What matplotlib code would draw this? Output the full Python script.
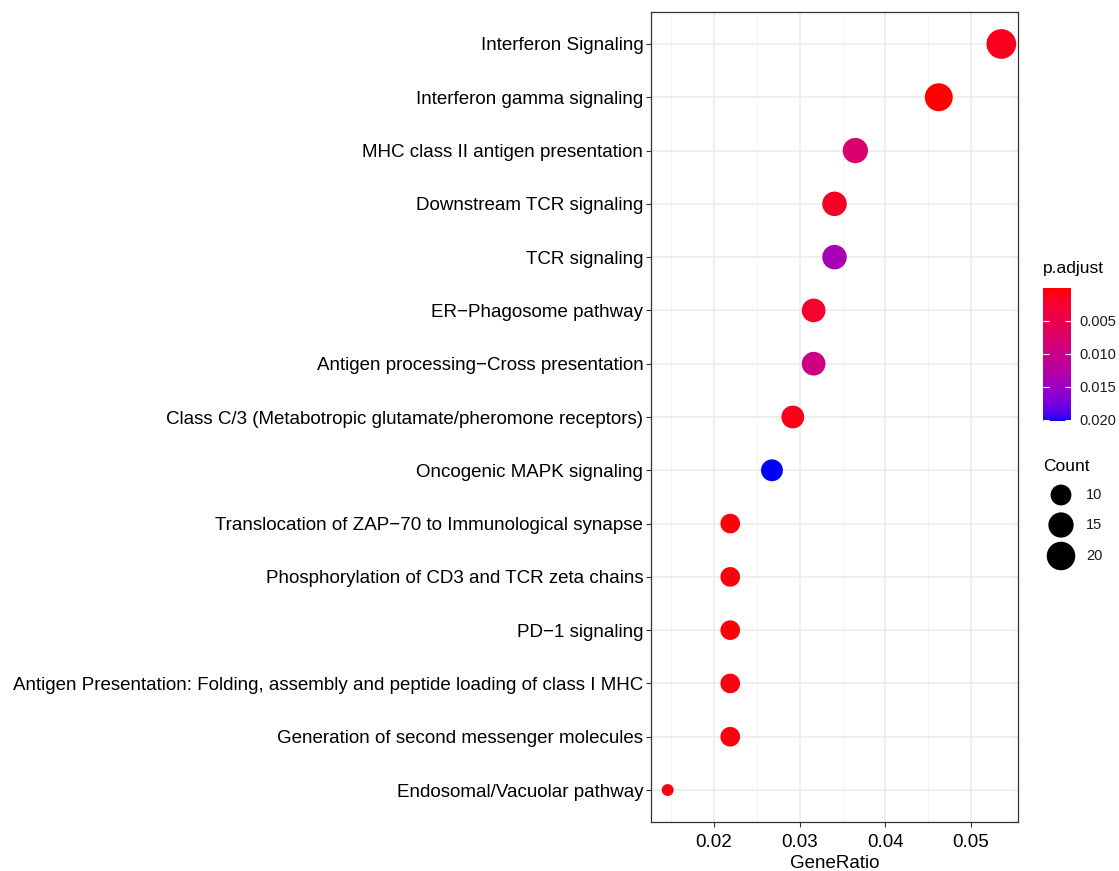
import numpy as np
import matplotlib
matplotlib.use("Agg")
import matplotlib.pyplot as plt
from matplotlib.colors import ListedColormap, Normalize, to_rgb

plt.rcParams['font.family'] = ['Liberation Sans', 'DejaVu Sans']

# enriched pathways, top row first
pathways = [
    "Interferon Signaling",
    "Interferon gamma signaling",
    "MHC class II antigen presentation",
    "Downstream TCR signaling",
    "TCR signaling",
    "ER\u2212Phagosome pathway",
    "Antigen processing\u2212Cross presentation",
    "Class C/3 (Metabotropic glutamate/pheromone receptors)",
    "Oncogenic MAPK signaling",
    "Translocation of ZAP\u221270 to Immunological synapse",
    "Phosphorylation of CD3 and TCR zeta chains",
    "PD\u22121 signaling",
    "Antigen Presentation: Folding, assembly and peptide loading of class I MHC",
    "Generation of second messenger molecules",
    "Endosomal/Vacuolar pathway",
]
counts = [22, 19, 15, 14, 14, 13, 13, 12, 11, 9, 9, 9, 9, 9, 6]
gene_total = 411
p_adjust = [0.0012, 0.00002, 0.0075, 0.0018, 0.0140, 0.0022, 0.0095, 0.0010,
            0.0202, 0.0004, 0.0004, 0.0004, 0.0006, 0.0005, 0.0008]
cbar_ticks = [0.005, 0.010, 0.015, 0.020]
size_breaks = [10, 15, 20]

counts = np.array(counts)
gene_ratio = counts / gene_total
p_adjust = np.array(p_adjust)


# red -> blue gradient interpolated in CIELAB
def rgb2lab(rgb):
    c = np.asarray(rgb, float)
    c = np.where(c <= 0.04045, c / 12.92, ((c + 0.055) / 1.055) ** 2.4)
    m = np.array([[0.4124, 0.3576, 0.1805], [0.2126, 0.7152, 0.0722], [0.0193, 0.1192, 0.9505]])
    xyz = m @ c / np.array([0.95047, 1.0, 1.08883])
    f = np.where(xyz > 0.008856, np.cbrt(xyz), 7.787 * xyz + 16 / 116)
    return np.array([116 * f[1] - 16, 500 * (f[0] - f[1]), 200 * (f[1] - f[2])])


def lab2rgb(lab):
    L, a, b = lab
    fy = (L + 16) / 116
    f = np.array([fy + a / 500, fy, fy - b / 200])
    xyz = np.where(f ** 3 > 0.008856, f ** 3, (f - 16 / 116) / 7.787)
    xyz = xyz * np.array([0.95047, 1.0, 1.08883])
    minv = np.array([[3.2406, -1.5372, -0.4986], [-0.9689, 1.8758, 0.0415], [0.0557, -0.2040, 1.0570]])
    c = minv @ xyz
    c = np.where(c <= 0.0031308, 12.92 * c, 1.055 * np.clip(c, 0, None) ** (1 / 2.4) - 0.055)
    return np.clip(c, 0, 1)


lo, hi = rgb2lab(to_rgb("red")), rgb2lab(to_rgb("blue"))
cmap = ListedColormap([lab2rgb(lo + t * (hi - lo)) for t in np.linspace(0, 1, 256)])
norm = Normalize(vmin=p_adjust.min(), vmax=p_adjust.max())


def marker_area(c):
    size = 3 + 5 * np.sqrt((np.asarray(c, float) - counts.min()) / (counts.max() - counts.min()))
    d_px = 3.55 * size + 1.3
    return (d_px * 0.72) ** 2


W, H = 1119, 871
fig = plt.figure(figsize=(W / 100, H / 100), dpi=100)
ax = fig.add_axes([651 / W, (H - 822) / H, (1018 - 651) / W, (822 - 12) / H])

n = len(pathways)
ypos = np.arange(n)[::-1]
sc = ax.scatter(gene_ratio, ypos, s=marker_area(counts), c=p_adjust, cmap=cmap, norm=norm,
                edgecolors='none', zorder=3)

rng = gene_ratio.max() - gene_ratio.min()
ax.set_xlim(gene_ratio.min() - 0.05 * rng, gene_ratio.max() + 0.05 * rng)
ax.set_ylim(-0.6, n - 0.4)
ax.set_xticks([0.02, 0.03, 0.04, 0.05])
ax.set_xticklabels(["0.02", "0.03", "0.04", "0.05"])
ax.set_xticks([0.015, 0.025, 0.035, 0.045, 0.055], minor=True)
ax.set_yticks(ypos)
ax.set_yticklabels(pathways)
ax.grid(which='major', color='#EBEBEB', lw=1.1, zorder=0)
ax.grid(which='minor', axis='x', color='#F2F2F2', lw=0.6, zorder=0)
ax.set_axisbelow(True)
for sp in ax.spines.values():
    sp.set_color('#333333')
    sp.set_linewidth(0.9)
ax.tick_params(axis='y', labelsize=13.5, colors='#333333', labelcolor='black', length=3.5, width=0.8, pad=2)
ax.tick_params(axis='x', labelsize=13.5, colors='#333333', labelcolor='black', length=3.5, width=0.8, pad=5)
ax.tick_params(which='minor', length=0)
ax.set_xlabel("GeneRatio", fontsize=13.5, labelpad=3)

# colour bar
cax = fig.add_axes([1043 / W, (H - 421) / H, 28 / W, 133 / H])
cb = fig.colorbar(sc, cax=cax)
cb.outline.set_visible(False)
cax.invert_yaxis()
cb.set_ticks(cbar_ticks)
cb.set_ticklabels([f"{t:.3f}" for t in cbar_ticks])
cax.tick_params(direction='in', colors='white', labelcolor='#1A1A1A', length=4.3, width=0.8,
                left=True, right=True, labelsize=10.5, pad=5.8)
fig.text(1043 / W, 1 - 269 / H, "p.adjust", fontsize=12.5, va='center', ha='left')

# size legend
lax = fig.add_axes([0, 0, 1, 1], facecolor='none')
lax.set_xlim(0, W)
lax.set_ylim(H, 0)
lax.axis('off')
lax.scatter([1061] * 3, [495, 525, 556], s=marker_area(size_breaks), color='black', edgecolors='none')
lax.text(1043, 466, "Count", fontsize=12.5, va='center', ha='left')
for yy, b in zip([495, 525, 556], size_breaks):
    lax.text(1086, yy, str(b), fontsize=10.5, va='center', ha='left', color='#1A1A1A')

fig.savefig("out.png", dpi=100)
